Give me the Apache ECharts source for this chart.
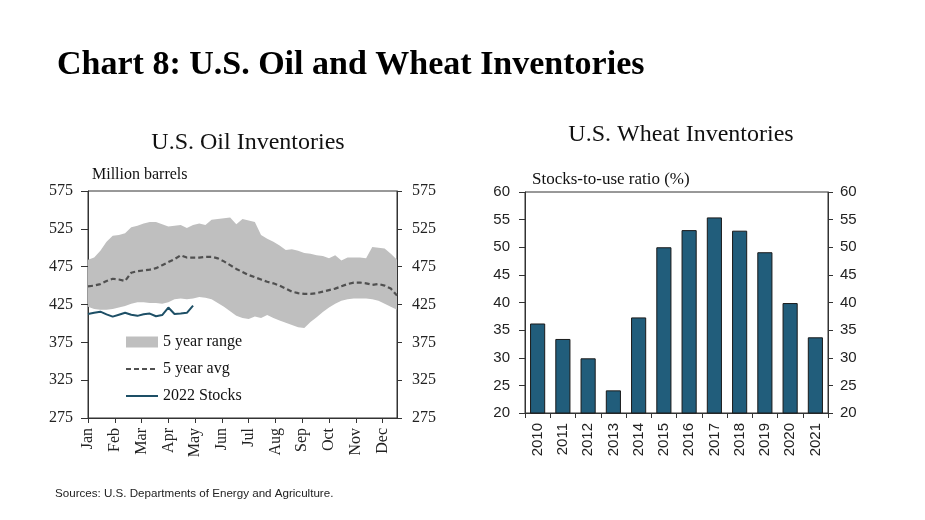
<!DOCTYPE html>
<html>
<head>
<meta charset="utf-8">
<script src="https://cdn.jsdelivr.net/npm/echarts@6/dist/echarts.min.js"></script>
<style>
html,body{margin:0;padding:0;background:#fff;}
#chart{width:925px;height:520px;}
</style>
</head>
<body>
<div id="chart"></div>
<script>
// ---- Oil inventories (weekly, million barrels) ----
var months = ['Jan','Feb','Mar','Apr','May','Jun','Jul','Aug','Sep','Oct','Nov','Dec'];
var rangeUpper = [484,487,496,508,516,517,519,527,529,532,534,534,531,528,529,530,526,530,532,530,537,538,539,540,531,538,536,534,517,512,508,503,497,498,496,493,492,490,489,486,490,483,487,487,487,486,501,500,499,492,484];
var rangeLower = [422,419,418,418,419,421,423,426,428,428,427,427,426,428,432,433,432,433,435,434,432,427,422,416,410,407,406,409,407,411,407,404,401,398,395,394,402,408,415,421,426,430,432,433,433,433,432,430,426,422,418];
var avg5 = [449,450,452,456,459,458,456,467,469,470,471,473,477,481,485,490,487,487,487,488,488,486,482,477,472,468,464,461,458,455,453,450,446,442,440,439,439,440,442,444,446,449,452,454,454,453,451,452,450,446,437];
var stocks2022 = [412.5,414,415.5,412,409,411.5,414,411.5,410,412,413,409.5,411,421,412.5,413,414,423.5];
var oilTicks = [275,325,375,425,475,525,575];

// ---- Wheat stocks-to-use ratio (%) ----
var years = ['2010','2011','2012','2013','2014','2015','2016','2017','2018','2019','2020','2021'];
var wheatRatio = [36.2,33.4,29.9,24.1,37.3,50.0,53.1,55.4,53.0,49.1,39.9,33.7];
var wheatTicks = [20,25,30,35,40,45,50,55,60];

function weekX(i){ return i * 12 / 52; }
function toPts(arr){ return arr.map(function(v,i){ return [weekX(i), v]; }); }
var bandData = rangeUpper.map(function(v,i){ return [weekX(i), v, rangeLower[i]]; });

var serif = '"Liberation Serif", "DejaVu Serif", serif';
var sans = '"Liberation Sans", Arial, sans-serif';

var chart = echarts.init(document.getElementById('chart'), null, {renderer:'canvas'});
var oilAxisLabel = {fontFamily: serif, fontSize: 16, color: '#222'};
var wheatAxisLabel = {fontFamily: sans, fontSize: 15, color: '#222'};

function renderBand(params, api){
  if (params.dataIndex !== 0) return null;
  var pts = [];
  for (var i = 0; i < bandData.length; i++) pts.push(api.coord([bandData[i][0], bandData[i][1]]));
  for (var j = bandData.length - 1; j >= 0; j--) pts.push(api.coord([bandData[j][0], bandData[j][2]]));
  return {type: 'polygon', shape: {points: pts}, style: {fill: '#bfbfbf', stroke: null}};
}

chart.setOption({
  animation: false,
  backgroundColor: '#fff',
  title: [
    {text: 'Chart 8: U.S. Oil and Wheat Inventories', left: 52, top: 43,
     textStyle: {fontFamily: serif, fontWeight: 'bold', fontSize: 34, color: '#000'}},
    {text: 'U.S. Oil Inventories', left: 243, top: 126, textAlign: 'center',
     textStyle: {fontFamily: serif, fontWeight: 'normal', fontSize: 24, color: '#111'}},
    {text: 'U.S. Wheat Inventories', left: 676, top: 118, textAlign: 'center',
     textStyle: {fontFamily: serif, fontWeight: 'normal', fontSize: 24, color: '#111'}},
    {text: 'Million barrels', left: 87, top: 162,
     textStyle: {fontFamily: serif, fontWeight: 'normal', fontSize: 16, color: '#111'}},
    {text: 'Stocks-to-use ratio (%)', left: 527, top: 166,
     textStyle: {fontFamily: serif, fontWeight: 'normal', fontSize: 17, color: '#111'}},
    {text: 'Sources: U.S. Departments of Energy and Agriculture.', left: 50, top: 483,
     textStyle: {fontFamily: sans, fontWeight: 'normal', fontSize: 11.6, color: '#222'}}
  ],
  legend: {
    orient: 'vertical', left: 125, top: 334, padding: 0,
    itemWidth: 32, itemHeight: 11, itemGap: 11,
    textStyle: {fontFamily: serif, fontSize: 16, color: '#111', lineHeight: 16},
    data: [
      {name: '5 year range', icon: 'rect', itemStyle: {color: '#bfbfbf'}},
      {name: '5 year avg', itemStyle: {opacity: 0}},
      {name: '2022 Stocks', itemStyle: {opacity: 0}}
    ]
  },
  grid: [
    {left: 88, top: 191, width: 309, height: 227, show: true, borderColor: '#333', borderWidth: 1, backgroundColor: 'transparent'},
    {left: 525, top: 192, width: 303, height: 221, show: true, borderColor: '#333', borderWidth: 1, backgroundColor: 'transparent'}
  ],
  xAxis: [
    {type: 'value', gridIndex: 0, min: 0, max: weekX(rangeUpper.length - 1), interval: 1,
     axisLine: {show: true, lineStyle: {color: '#333'}},
     axisTick: {show: true, length: 5, lineStyle: {color: '#333'}},
     splitLine: {show: false},
     axisLabel: Object.assign({rotate: 90, margin: 10, showMaxLabel: false,
       formatter: function(v){ var k = Math.round(v); return Math.abs(v - k) < 0.01 && k < 12 ? months[k] : ''; }}, oilAxisLabel)},
    {type: 'category', gridIndex: 1, data: years,
     axisLine: {show: true, lineStyle: {color: '#333'}},
     axisTick: {show: true, length: 5, lineStyle: {color: '#333'}},
     axisLabel: Object.assign({rotate: 90, margin: 10, interval: 0}, wheatAxisLabel)}
  ],
  yAxis: [
    {type: 'value', gridIndex: 0, position: 'left', min: oilTicks[0], max: oilTicks[oilTicks.length-1], interval: 50,
     axisLine: {show: true, lineStyle: {color: '#333'}}, axisTick: {show: true, length: 7, lineStyle: {color: '#333'}},
     splitLine: {show: false}, axisLabel: Object.assign({margin: 15}, oilAxisLabel)},
    {type: 'value', gridIndex: 0, position: 'right', min: oilTicks[0], max: oilTicks[oilTicks.length-1], interval: 50,
     axisLine: {show: true, lineStyle: {color: '#333'}}, axisTick: {show: true, length: 5, lineStyle: {color: '#333'}},
     splitLine: {show: false}, axisLabel: Object.assign({margin: 15}, oilAxisLabel)},
    {type: 'value', gridIndex: 1, position: 'left', min: wheatTicks[0], max: wheatTicks[wheatTicks.length-1], interval: 5,
     axisLine: {show: true, lineStyle: {color: '#333'}}, axisTick: {show: true, length: 6, lineStyle: {color: '#333'}},
     splitLine: {show: false}, axisLabel: Object.assign({margin: 15}, wheatAxisLabel)},
    {type: 'value', gridIndex: 1, position: 'right', min: wheatTicks[0], max: wheatTicks[wheatTicks.length-1], interval: 5,
     axisLine: {show: true, lineStyle: {color: '#333'}}, axisTick: {show: true, length: 5, lineStyle: {color: '#333'}},
     splitLine: {show: false}, axisLabel: Object.assign({margin: 12}, wheatAxisLabel)}
  ],
  series: [
    {name: '5 year range', type: 'custom', xAxisIndex: 0, yAxisIndex: 0, data: bandData,
     encode: {x: 0, y: [1, 2]}, itemStyle: {color: '#bfbfbf'}, renderItem: renderBand, z: 1, silent: true},
    {name: '5 year avg', type: 'line', xAxisIndex: 0, yAxisIndex: 0, symbol: 'none',
     data: toPts(avg5), itemStyle: {color: '#505050'},
     lineStyle: {color: '#505050', width: 2.2, type: [5, 3]}, z: 3},
    {name: '2022 Stocks', type: 'line', xAxisIndex: 0, yAxisIndex: 0, symbol: 'none',
     data: toPts(stocks2022), itemStyle: {color: '#1d4f66'},
     lineStyle: {color: '#1d4f66', width: 2}, z: 4},
    {name: 'Wheat', type: 'bar', xAxisIndex: 1, yAxisIndex: 2, data: wheatRatio, barWidth: '60%',
     itemStyle: {color: '#215d7b', borderColor: '#1a1a1a', borderWidth: 1}}
  ]
});
</script>
</body>
</html>
